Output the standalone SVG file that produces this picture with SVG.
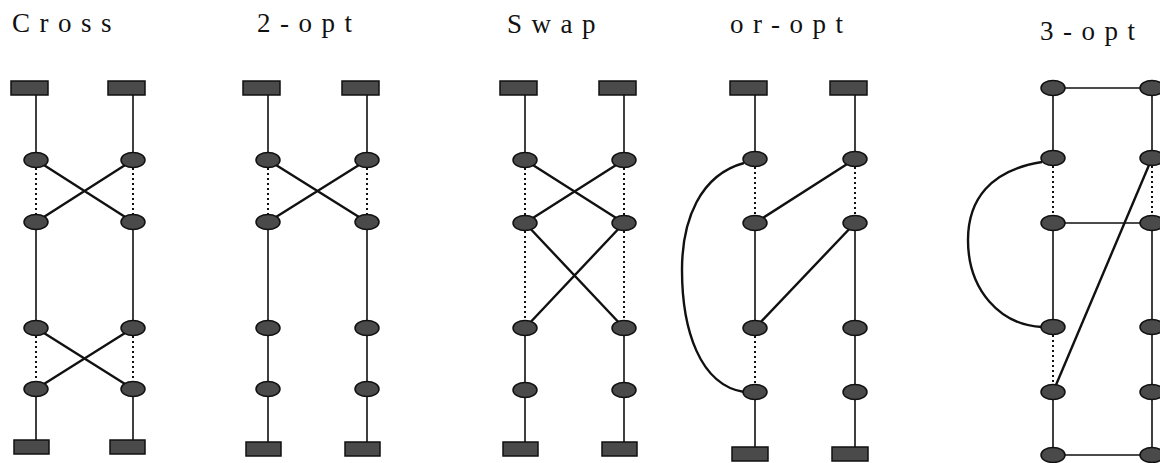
<svg xmlns="http://www.w3.org/2000/svg" width="1160" height="463" viewBox="0 0 1160 463">
<defs>
<style>
.lbl{font-family:"Liberation Serif","Times New Roman",serif;font-size:27px;letter-spacing:9.5px;fill:#111}
.sq{fill:#4a4a4a;stroke:#111;stroke-width:1.5}
.nd{fill:#4a4a4a;stroke:#111;stroke-width:1.5}
.v{stroke:#111;stroke-width:1.6;fill:none}
.dot{stroke:#111;stroke-width:2;stroke-dasharray:2 3;fill:none}
.x{stroke:#111;stroke-width:2.4;fill:none}
</style>
</defs>
<rect width="1160" height="463" fill="#fff"/>
<g id="labels">
<text class="lbl" x="12" y="32">Cross</text>
<text class="lbl" x="257" y="32">2-opt</text>
<text class="lbl" x="507" y="33">Swap</text>
<text class="lbl" x="730" y="33">or-opt</text>
<text class="lbl" x="1040" y="40">3-opt</text>
</g>
<g id="connectors">
<!-- Cross -->
<path class="v" d="M36 95V160M36 222V328M36 389V440M133 95V160M133 222V328M133 389V440"/>
<path class="dot" d="M36 168V215M36 336V382M133 168V215M133 336V382"/>
<path class="x" d="M36 160L133 222M133 160L36 222M36 328L133 389M133 328L36 389"/>
<!-- 2-opt -->
<path class="v" d="M268 95V160M268 222V442M367 95V160M367 222V442"/>
<path class="dot" d="M268 168V215M367 168V215"/>
<path class="x" d="M268 160L367 222M367 160L268 222"/>
<!-- Swap -->
<path class="v" d="M525 95V160M525 328V442M624 95V160M624 328V442"/>
<path class="dot" d="M525 168V215M525 231V320M624 168V215M624 231V320"/>
<path class="x" d="M525 160L624 223M624 160L525 223M525 223L624 328M624 223L525 328"/>
<!-- or-opt -->
<path class="v" d="M755 95V159M755 223V328M755 392V448M855 95V159M855 223V448"/>
<path class="dot" d="M755 167V216M755 336V385M855 167V216"/>
<path class="x" d="M855 159L755 223M855 223L755 328"/>
<path class="x" d="M744 163C700 175 682 220 682 270C682 330 700 385 744 392"/>
<!-- 3-opt -->
<path class="v" d="M1053 88V158M1053 223V327M1053 392V455M1152 88V158M1152 223V455M1053 88H1152M1053 223H1152M1053 455H1152"/>
<path class="dot" d="M1053 166V216M1053 335V385M1152 166V216"/>
<path class="x" d="M1152 158L1053 392"/>
<path class="x" d="M1042 162C990 170 968 200 968 240C968 290 1000 325 1042 327"/>
</g>
<g id="cross-nodes">
<rect class="sq" x="11" y="81" width="37" height="14"/>
<rect class="sq" x="108" y="81" width="37" height="14"/>
<ellipse class="nd" cx="36" cy="160" rx="12" ry="7.5"/>
<ellipse class="nd" cx="133" cy="160" rx="12" ry="7.5"/>
<ellipse class="nd" cx="36" cy="222" rx="12" ry="7.5"/>
<ellipse class="nd" cx="133" cy="222" rx="12" ry="7.5"/>
<ellipse class="nd" cx="36" cy="328" rx="12" ry="7.5"/>
<ellipse class="nd" cx="133" cy="328" rx="12" ry="7.5"/>
<ellipse class="nd" cx="36" cy="389" rx="12" ry="7.5"/>
<ellipse class="nd" cx="133" cy="389" rx="12" ry="7.5"/>
<rect class="sq" x="14" y="440" width="35" height="14"/>
<rect class="sq" x="110" y="440" width="35" height="14"/>
</g>
<g id="twoopt-nodes">
<rect class="sq" x="243" y="81" width="37" height="14"/>
<rect class="sq" x="342" y="81" width="37" height="14"/>
<ellipse class="nd" cx="268" cy="160" rx="12" ry="7.5"/>
<ellipse class="nd" cx="367" cy="160" rx="12" ry="7.5"/>
<ellipse class="nd" cx="268" cy="222" rx="12" ry="7.5"/>
<ellipse class="nd" cx="367" cy="222" rx="12" ry="7.5"/>
<ellipse class="nd" cx="268" cy="328" rx="12" ry="7.5"/>
<ellipse class="nd" cx="367" cy="328" rx="12" ry="7.5"/>
<ellipse class="nd" cx="268" cy="389" rx="12" ry="7.5"/>
<ellipse class="nd" cx="367" cy="389" rx="12" ry="7.5"/>
<rect class="sq" x="246" y="442" width="35" height="14"/>
<rect class="sq" x="345" y="442" width="35" height="14"/>
</g>
<g id="swap-nodes">
<rect class="sq" x="500" y="81" width="37" height="14"/>
<rect class="sq" x="599" y="81" width="37" height="14"/>
<ellipse class="nd" cx="525" cy="160" rx="12" ry="7.5"/>
<ellipse class="nd" cx="624" cy="160" rx="12" ry="7.5"/>
<ellipse class="nd" cx="525" cy="223" rx="12" ry="7.5"/>
<ellipse class="nd" cx="624" cy="223" rx="12" ry="7.5"/>
<ellipse class="nd" cx="525" cy="328" rx="12" ry="7.5"/>
<ellipse class="nd" cx="624" cy="328" rx="12" ry="7.5"/>
<ellipse class="nd" cx="525" cy="390" rx="12" ry="7.5"/>
<ellipse class="nd" cx="624" cy="390" rx="12" ry="7.5"/>
<rect class="sq" x="503" y="442" width="35" height="14"/>
<rect class="sq" x="602" y="442" width="35" height="14"/>
</g>
<g id="oropt-nodes">
<rect class="sq" x="730" y="81" width="37" height="14"/>
<rect class="sq" x="830" y="81" width="37" height="14"/>
<ellipse class="nd" cx="755" cy="159" rx="12" ry="7.5"/>
<ellipse class="nd" cx="855" cy="159" rx="12" ry="7.5"/>
<ellipse class="nd" cx="755" cy="223" rx="12" ry="7.5"/>
<ellipse class="nd" cx="855" cy="223" rx="12" ry="7.5"/>
<ellipse class="nd" cx="755" cy="328" rx="12" ry="7.5"/>
<ellipse class="nd" cx="855" cy="328" rx="12" ry="7.5"/>
<ellipse class="nd" cx="755" cy="392" rx="12" ry="7.5"/>
<ellipse class="nd" cx="855" cy="392" rx="12" ry="7.5"/>
<rect class="sq" x="732" y="447" width="36" height="14"/>
<rect class="sq" x="832" y="447" width="36" height="14"/>
</g>
<g id="threeopt-nodes">
<ellipse class="nd" cx="1053" cy="88" rx="12" ry="7.5"/>
<ellipse class="nd" cx="1152" cy="88" rx="12" ry="7.5"/>
<ellipse class="nd" cx="1053" cy="158" rx="12" ry="7.5"/>
<ellipse class="nd" cx="1152" cy="158" rx="12" ry="7.5"/>
<ellipse class="nd" cx="1053" cy="223" rx="12" ry="7.5"/>
<ellipse class="nd" cx="1152" cy="223" rx="12" ry="7.5"/>
<ellipse class="nd" cx="1053" cy="327" rx="12" ry="7.5"/>
<ellipse class="nd" cx="1152" cy="327" rx="12" ry="7.5"/>
<ellipse class="nd" cx="1053" cy="392" rx="12" ry="7.5"/>
<ellipse class="nd" cx="1152" cy="392" rx="12" ry="7.5"/>
<ellipse class="nd" cx="1053" cy="455" rx="12" ry="7.5"/>
<ellipse class="nd" cx="1152" cy="455" rx="12" ry="7.5"/>
</g>
</svg>
